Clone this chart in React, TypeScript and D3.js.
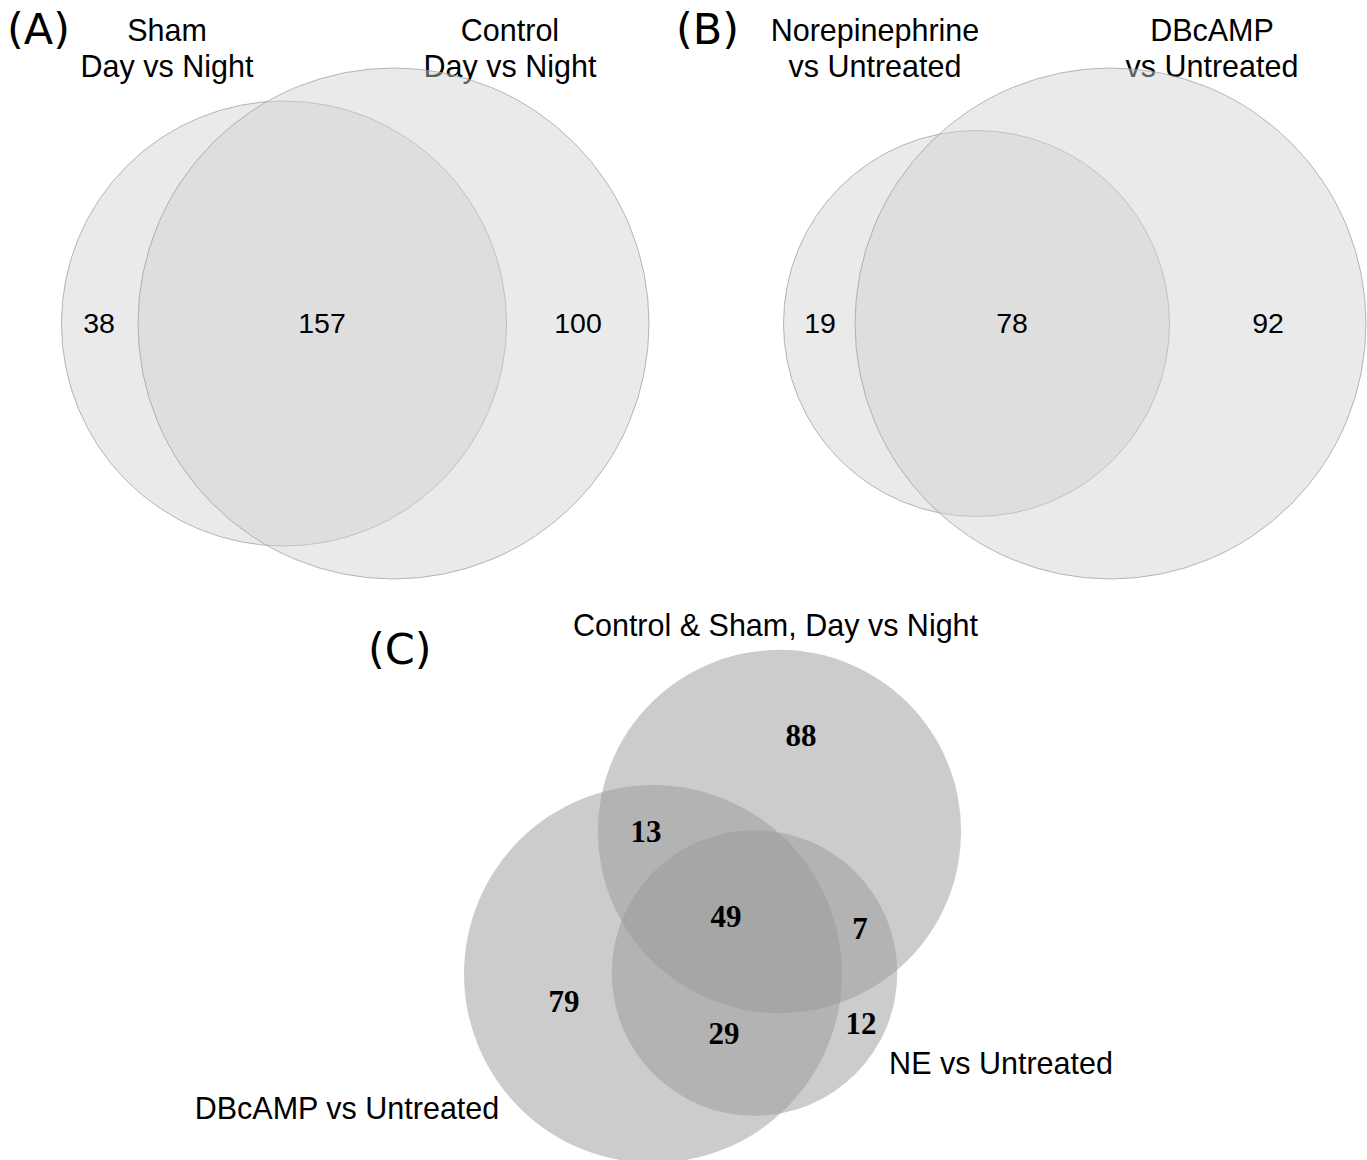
import React, { useEffect } from "react";
import * as d3 from "d3";

// ---- data ----
const panelALabels = [["Sham", "Day vs Night"], ["Control", "Day vs Night"]];
const panelACounts = [38, 157, 100]; // only-left, both, only-right
const panelBLabels = [["Norepinephrine", "vs Untreated"], ["DBcAMP", "vs Untreated"]];
const panelBCounts = [19, 78, 92];
const panelCLabels = ["Control & Sham, Day vs Night", "DBcAMP vs Untreated", "NE vs Untreated"];
// regions: C only, C&D, C&D&N, C&N, D only, D&N, N only
const panelCRegionNames = ["C", "CD", "CDN", "CN", "D", "DN", "N"];
const panelCCounts = [88, 13, 49, 7, 79, 29, 12];

const SANS = "'Liberation Sans', Arial, sans-serif";
const SERIF = "'Liberation Serif', 'Times New Roman', serif";
const PANEL = "'DejaVu Sans', Verdana, sans-serif";

function TwoSet({ counts, labels, tag, tagX, centers, labelX, numX }: any) {
  const sizes = [counts[0] + counts[1], counts[1] + counts[2]];
  const r = d3.scaleSqrt().domain([0, d3.max(sizes)!]).range([0, 255.5]);
  const cy = 323.5;
  return (
    <g>
      <text x={tagX} y={44} fontFamily={PANEL} fontSize={43}>{tag}</text>
      {labels.map((l: string[], i: number) => (
        <text key={i} x={labelX[i]} textAnchor="middle" fontFamily={SANS} fontSize={30.5}>
          <tspan x={labelX[i]} y={41}>{l[0]}</tspan>
          <tspan x={labelX[i]} y={77}>{l[1]}</tspan>
        </text>
      ))}
      {sizes.map((s, i) => (
        <circle key={i} cx={centers[i]} cy={cy} r={r(s)} fill="#d0d0d0" fillOpacity={0.45} stroke="#9a9a9a" strokeOpacity={0.7} strokeWidth={1} />
      ))}
      {counts.map((c: number, i: number) => (
        <text key={i} x={numX[i]} y={cy} dy="0.35em" textAnchor="middle" fontFamily={SANS} fontSize={28.5}>{c}</text>
      ))}
    </g>
  );
}

export default function App() {
  useEffect(() => {
    document.body.style.margin = "0";
  }, []);

  const cSizes = [
    panelCCounts[0] + panelCCounts[1] + panelCCounts[2] + panelCCounts[3],
    panelCCounts[1] + panelCCounts[2] + panelCCounts[4] + panelCCounts[5],
    panelCCounts[2] + panelCCounts[3] + panelCCounts[5] + panelCCounts[6],
  ];
  const rC = d3.scaleSqrt().domain([0, d3.max(cSizes)!]).range([0, 189]);
  const cCenters = [[779.5, 831.5], [653, 974], [754.5, 973]];
  const cNumPos: Record<string, number[]> = {
    C: [801, 735], CD: [646, 831], CDN: [726, 916], CN: [860, 928], D: [564, 1001], DN: [724, 1033], N: [861, 1023],
  };

  return (
    <svg width={1367} height={1160} style={{ display: "block" }}>
      <rect width={1367} height={1160} fill="#fff" />
      <TwoSet counts={panelACounts} labels={panelALabels} tag="(A)" tagX={7} centers={[284, 393.5]} labelX={[167, 510]} numX={[99, 322, 578]} />
      <TwoSet counts={panelBCounts} labels={panelBLabels} tag="(B)" tagX={676} centers={[976.5, 1110.5]} labelX={[875, 1212]} numX={[820, 1012, 1268]} />
      <g>
        <text x={368} y={664} fontFamily={PANEL} fontSize={43}>(C)</text>
        {cSizes.map((s, i) => (
          <circle key={i} cx={cCenters[i][0]} cy={cCenters[i][1]} r={rC(s)} fill="#999" fillOpacity={0.5} />
        ))}
        <text x={775.5} y={636} textAnchor="middle" fontFamily={SANS} fontSize={30.5}>{panelCLabels[0]}</text>
        <text x={347} y={1119} textAnchor="middle" fontFamily={SANS} fontSize={30.5}>{panelCLabels[1]}</text>
        <text x={1001} y={1074} textAnchor="middle" fontFamily={SANS} fontSize={30.5}>{panelCLabels[2]}</text>
        {panelCRegionNames.map((n, i) => (
          <text key={n} x={cNumPos[n][0]} y={cNumPos[n][1]} dy="0.35em" textAnchor="middle" fontFamily={SERIF} fontWeight="bold" fontSize={31}>{panelCCounts[i]}</text>
        ))}
      </g>
    </svg>
  );
}
